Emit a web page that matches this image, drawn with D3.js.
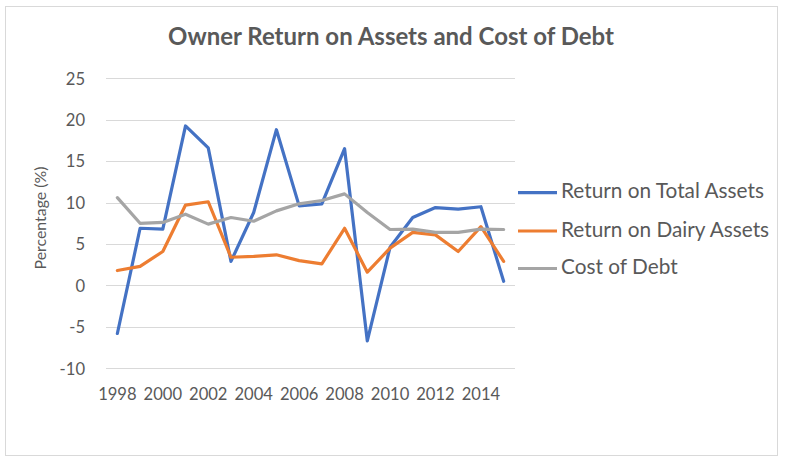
<!DOCTYPE html>
<html>
<head>
<meta charset="utf-8">
<script src="https://cdn.jsdelivr.net/npm/d3@7"></script>
<style>
html,body{margin:0;padding:0;background:#fff;}
svg{display:block;}
text{font-family:Lato,"Open Sans",sans-serif;fill:#595959;}
</style>
</head>
<body>
<svg id="chart" width="786" height="463"></svg>
<script>
const years = [1998,1999,2000,2001,2002,2003,2004,2005,2006,2007,2008,2009,2010,2011,2012,2013,2014,2015];
const totalAssets = [-5.8,6.9,6.8,19.25,16.6,2.9,8.8,18.8,9.6,9.85,16.5,-6.7,4.6,8.2,9.4,9.2,9.5,0.5];
const dairyAssets = [1.8,2.3,4.1,9.7,10.1,3.4,3.5,3.7,3.0,2.6,6.9,1.6,4.5,6.4,6.1,4.1,7.1,2.9];
const costOfDebt = [10.6,7.5,7.6,8.6,7.4,8.2,7.75,9.0,9.85,10.25,11.05,8.8,6.75,6.8,6.4,6.4,6.8,6.75];
const yTicks = [-10,-5,0,5,10,15,20,25];
const xTickLabels = [1998,2000,2002,2004,2006,2008,2010,2012,2014];
const seriesNames = ["Return on Total Assets","Return on Dairy Assets","Cost of Debt"];
const seriesColors = ["#4472C4","#ED7D31","#A5A5A5"];
const title = "Owner Return on Assets and Cost of Debt";
const yTitle = "Percentage (%)";

const svg = d3.select("#chart");
svg.append("rect").attr("x",5.5).attr("y",6.5).attr("width",772).attr("height",449)
  .attr("fill","#fff").attr("stroke","#d9d9d9").attr("stroke-width",1);

// fit a font size so that a text reaches a target width
function fitSize(txt, weight, target){
  const t = svg.append("text").attr("font-size",20).attr("font-weight",weight).text(txt);
  const w = t.node().getComputedTextLength();
  t.remove();
  return 20*target/w;
}
const tickSize = fitSize("1998","normal",38.5);
const titleSize = fitSize(title,"bold",446);
const legendSize = fitSize(seriesNames[0],"normal",203);
const yTitleSize = fitSize(yTitle,"normal",103);

const plot = {left:106, right:515, top:78.3, bottom:368.3};
const x = d3.scaleBand().domain(years).range([plot.left, plot.right]);
const y = d3.scaleLinear().domain([-10,25]).range([plot.bottom, plot.top]);

// gridlines
svg.append("g").selectAll("line").data(yTicks).join("line")
  .attr("x1",plot.left).attr("x2",plot.right)
  .attr("y1",d=>Math.round(y(d))+0.5).attr("y2",d=>Math.round(y(d))+0.5)
  .attr("stroke","#d9d9d9").attr("stroke-width",1);

// y axis labels
const yAxis = d3.axisLeft(y).tickValues(yTicks).tickSize(0).tickPadding(0)
  .tickFormat(d=>String(d));
const gy = svg.append("g").attr("transform",`translate(85,0)`).call(yAxis);
gy.select(".domain").remove();
gy.selectAll("text").attr("font-size",tickSize).attr("fill","#595959")
  .style("font-family","Lato").attr("dy",null).attr("y",5.7);

// x axis labels
const xAxis = d3.axisBottom(x).tickValues(xTickLabels).tickSize(0).tickPadding(0);
const gx = svg.append("g").attr("transform",`translate(0,400)`).call(xAxis);
gx.select(".domain").remove();
gx.selectAll("text").attr("font-size",tickSize).attr("fill","#595959")
  .style("font-family","Lato").attr("dy",null).attr("y",0);

// lines
const xc = d => x(d) + x.bandwidth()/2;
const data = [totalAssets, dairyAssets, costOfDebt];
const line = d3.line().x((d,i)=>xc(years[i])).y(d=>y(d));
data.forEach((s,k)=>{
  svg.append("path").datum(s).attr("d",line).attr("fill","none")
    .attr("stroke",seriesColors[k]).attr("stroke-width",3.2)
    .attr("stroke-linejoin","round").attr("stroke-linecap","round");
});

// title
svg.append("text").attr("x",391).attr("y",45).attr("text-anchor","middle")
  .attr("font-size",titleSize).attr("font-weight","bold").text(title);

// y title
svg.append("text").attr("transform","translate(46,218) rotate(-90)")
  .attr("text-anchor","middle").attr("font-size",yTitleSize).text(yTitle);

// legend
const legendLineY = [192.7,231,268.5];
const legendBase = [198.3,236.7,274.3];
seriesNames.forEach((n,k)=>{
  svg.append("line").attr("x1",518).attr("x2",557).attr("y1",legendLineY[k]).attr("y2",legendLineY[k])
    .attr("stroke",seriesColors[k]).attr("stroke-width",3.2);
  svg.append("text").attr("x",561).attr("y",legendBase[k])
    .attr("font-size",legendSize).text(n);
});
</script>
</body>
</html>
